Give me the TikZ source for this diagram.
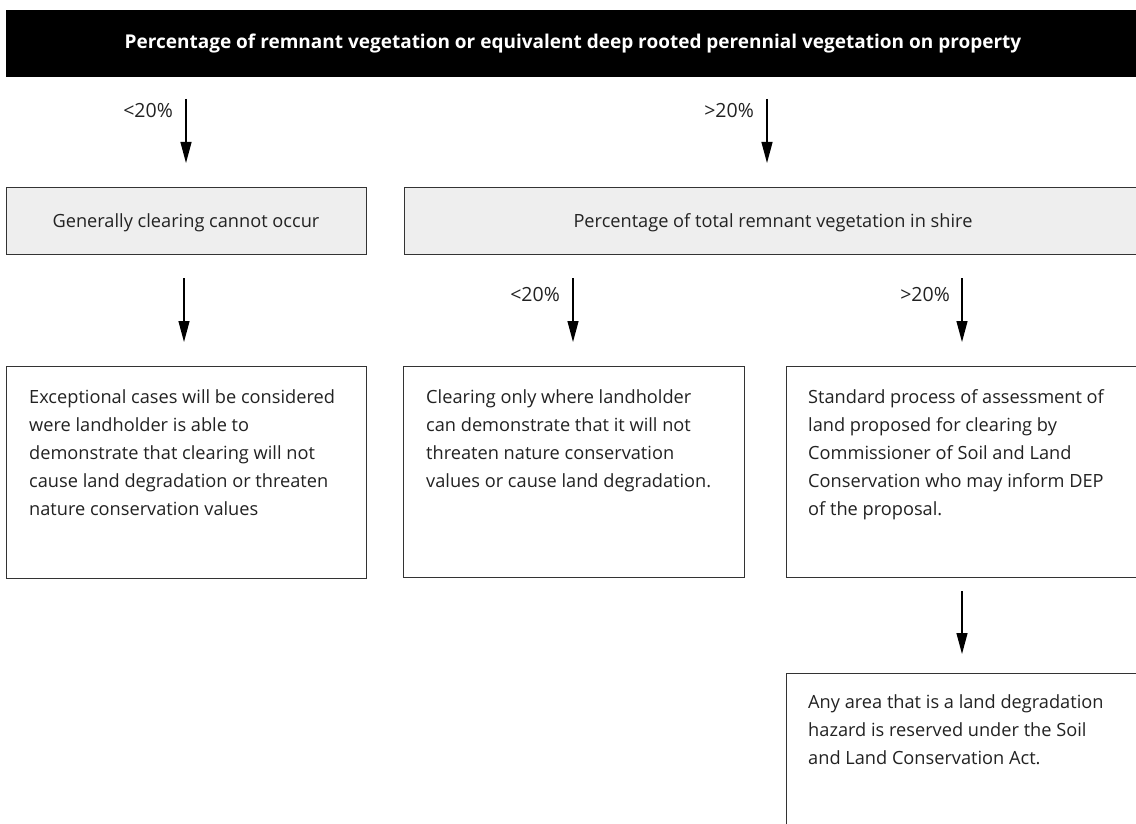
\documentclass[tikz,border=0pt]{standalone}
\usepackage{fontspec}
\setmainfont{Open Sans}
\usetikzlibrary{arrows.meta}
\definecolor{boxgrey}{HTML}{EEEEEE}
\definecolor{edge}{HTML}{333333}
\definecolor{ink}{HTML}{222222}
\tikzset{
  arr/.style={line width=1.2pt, -{Triangle[length=21pt,width=11pt]}},
  greybox/.style={draw=edge, line width=1.4pt, fill=boxgrey, anchor=north west, inner sep=0pt},
  whitebox/.style={draw=edge, line width=1.4pt, fill=white, anchor=north west, inner sep=0pt},
  boxtext/.style={anchor=base west, inner sep=0pt, align=left, text=ink, font=\fontsize{18.2}{28}\selectfont},
  greytext/.style={anchor=base, inner sep=0pt, text=ink, font=\fontsize{18.2}{22}\selectfont},
  lbl/.style={anchor=base east, inner sep=0pt, text=ink, font=\fontsize{19.5}{22}\selectfont},
}
\begin{document}
\begin{tikzpicture}[x=1pt,y=-1pt]
\useasboundingbox (0,0) rectangle (1136,824);
\clip (0,0) rectangle (1136,824);
% title bar
\node[fill=black, anchor=north west, minimum width=1140pt, minimum height=67pt, inner sep=0pt] (bar) at (6,10) {};
\node[text=white, anchor=base, inner sep=0pt, font=\bfseries\fontsize{19}{22}\selectfont] (title) at (573,49) {Percentage of remnant vegetation or equivalent deep rooted perennial vegetation on property};
% grey boxes
\node[greybox, minimum width=360pt, minimum height=67pt] (g1) at (6,187) {};
\node[greytext] (g1t) at (186,227) {Generally clearing cannot occur};
\node[greybox, minimum width=740pt, minimum height=67pt] (g2) at (404,187) {};
\node[greytext] (g2t) at (773,227) {Percentage of total remnant vegetation in shire};
% white boxes
\node[whitebox, minimum width=360pt, minimum height=212pt] (b1) at (6,366) {};
\node[whitebox, minimum width=341pt, minimum height=211pt] (b2) at (403,366) {};
\node[whitebox, minimum width=360pt, minimum height=211pt] (b3) at (786,366) {};
\node[whitebox, minimum width=360pt, minimum height=200pt] (b4) at (786,673) {};
\node[boxtext] (b1t) at (29,515) {Exceptional cases will be considered\\were landholder is able to\\demonstrate that clearing will not\\cause land degradation or threaten\\nature conservation values};
\node[boxtext] (b2t) at (426,487) {Clearing only where landholder\\can demonstrate that it will not\\threaten nature conservation\\values or cause land degradation.};
\node[boxtext] (b3t) at (808,515) {Standard process of assessment of\\land proposed for clearing by\\Commissioner of Soil and Land\\Conservation who may inform DEP\\of the proposal.};
\node[boxtext] (b4t) at (808,764) {Any area that is a land degradation\\hazard is reserved under the Soil\\and Land Conservation Act.};
% arrow coordinates
\coordinate (a1s) at (186,99);  \coordinate (a1e) at (186,163);
\coordinate (a2s) at (767,99);  \coordinate (a2e) at (767,163);
\coordinate (a3s) at (184,278); \coordinate (a3e) at (184,342);
\coordinate (a4s) at (573,278); \coordinate (a4e) at (573,342);
\coordinate (a5s) at (962,278); \coordinate (a5e) at (962,342);
\coordinate (a6s) at (962,591); \coordinate (a6e) at (962,654);
\draw[arr] (a1s) -- (a1e);
\draw[arr] (a2s) -- (a2e);
\draw[arr] (a3s) -- (a3e);
\draw[arr] (a4s) -- (a4e);
\draw[arr] (a5s) -- (a5e);
\draw[arr] (a6s) -- (a6e);
% labels
\node[lbl] (l1) at (173,118) {<20\%};
\node[lbl] (l2) at (754,118) {>20\%};
\node[lbl] (l4) at (560,301) {<20\%};
\node[lbl] (l5) at (950,301) {>20\%};
\end{tikzpicture}
\end{document}
